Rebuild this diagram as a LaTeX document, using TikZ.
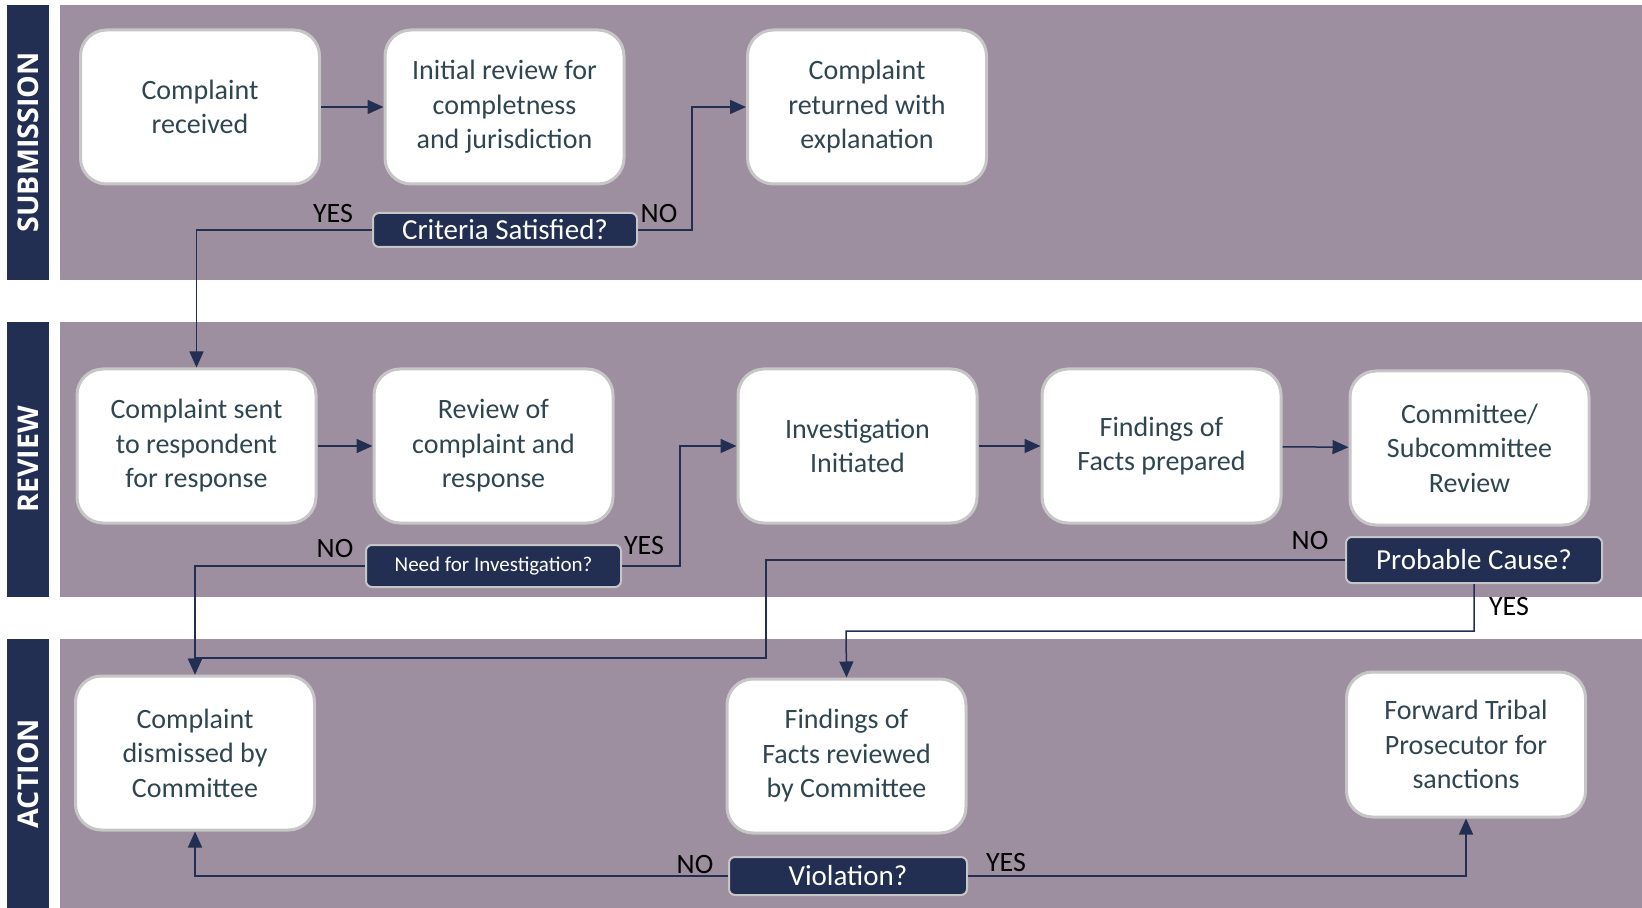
\documentclass[tikz,border=0pt]{standalone}
\usepackage{fontspec}
\setmainfont{Carlito}
\newfontfamily\lanefont{Open Sans}
\usetikzlibrary{arrows.meta}

\definecolor{navy}{HTML}{232F52}
\definecolor{lanefill}{HTML}{9D8F9F}
\definecolor{boxedge}{HTML}{C6C6C6}
\definecolor{boxtext}{HTML}{2F4550}

\tikzset{
  stepbox/.style={draw=boxedge, line width=1.5pt, fill=white, rounded corners=13pt,
    minimum width=119.5pt, minimum height=77pt, align=center, text=boxtext,
    font=\fontsize{14}{17.25}\selectfont},
  question/.style={draw=boxedge, line width=1pt, fill=navy, rounded corners=3pt,
    text=white, font=\fontsize{14.5}{16}\selectfont, inner sep=0pt},
  answer/.style={text=black, font=\fontsize{14}{16}\selectfont, inner sep=0pt},
  lanelabel/.style={text=white, font=\lanefont\bfseries\fontsize{14.3}{16}\selectfont},
  flow/.style={->, draw=navy, line width=0.75pt}
}

\begin{document}
\begin{tikzpicture}[x=0.5pt, y=-0.5pt, >={Triangle[length=8pt, width=7pt]}]

    \useasboundingbox (0,0) rectangle (1642,908);
    \fill[white] (0,0) rectangle (1642,908);

    % swim lanes
    \foreach \top/\bot/\lane in {5/280/SUBMISSION, 322/597/REVIEW, 639/908/ACTION} {
        \fill[navy] (7,\top) rectangle (49,\bot);
        \fill[lanefill] (60,\top) rectangle (1642,\bot);
        \node[lanelabel, rotate=90] at (28,{(\top+\bot)/2}) {\lane};
    };

    % submission
    \node[stepbox] at (200,107) (recv) {Complaint\\received};
    \node[stepbox] at (504.5,107) (init) {Initial review for\\completness\\and jurisdiction};
    \node[stepbox] at (867,107) (ret) {Complaint\\returned with\\explanation};
    \node[question, minimum width=132pt, minimum height=17pt] at (505,230) (crit) {Criteria Satisfied?};

    % review
    \node[stepbox] at (196.5,446) (sent) {Complaint sent\\to respondent\\for response};
    \node[stepbox] at (493.5,446) (revw) {Review of\\complaint and\\response};
    \node[stepbox] at (857.5,446) (inv) {Investigation\\Initiated};
    \node[stepbox] at (1161.5,446) (fact) {Findings of\\Facts prepared};
    \node[stepbox] at (1469.5,448) (comm) {Committee/\\Subcommittee\\Review};
    \node[question, minimum width=127.5pt, minimum height=21pt,
          font=\fontsize{10.5}{12}\selectfont] at (493.5,566) (need) {Need for Investigation?};
    \node[question, minimum width=128pt, minimum height=23pt] at (1474,560) (prob) {Probable Cause?};

    % action
    \node[stepbox] at (195,753) (dism) {Complaint\\dismissed by\\Committee};
    \node[stepbox] at (846.5,756) (rev) {Findings of\\Facts reviewed\\by Committee};
    \node[stepbox, minimum height=72.5pt] at (1466,744.5) (fwd) {Forward Tribal\\Prosecutor for\\sanctions};
    \node[question, minimum width=119pt, minimum height=19pt] at (848,876) (viol) {Violation?};

    % answers
    \node[answer] at (333,214) (crityes) {YES};
    \node[answer] at (659,214) (critno) {NO};
    \node[answer] at (335,549) (needno) {NO};
    \node[answer] at (644,546) (needyes) {YES};
    \node[answer] at (1310,541) (probno) {NO};
    \node[answer] at (1509,607) (probyes) {YES};
    \node[answer] at (695,865) (violno) {NO};
    \node[answer] at (1006,863) (violyes) {YES};

    \coordinate (nobend) at (766,658);
    \coordinate (yesbend) at (846,631);

    \draw[flow] (recv) -- (init);
    \draw[flow] (crit.west) -| (sent.north);
    \draw[flow] (crit.east) -- ++(54,0) |- (ret.west);

    \draw[flow] (sent) -- (revw);
    \draw[flow] (inv) -- (fact);
    \draw[flow] (fact) -- (comm);
    \draw[flow] (need.west) -| (dism.north);
    \draw[flow] (need.east) -- ++(58,0) |- (inv.west);
    \draw[flow] (prob.west) -| (nobend) -| (dism.north);
    \draw[flow] (prob.south) |- (yesbend) -- (rev.north);

    \draw[flow] (viol.west) -| (dism.south);
    \draw[flow] (viol.east) -| (fwd.south);
\end{tikzpicture}
\end{document}
